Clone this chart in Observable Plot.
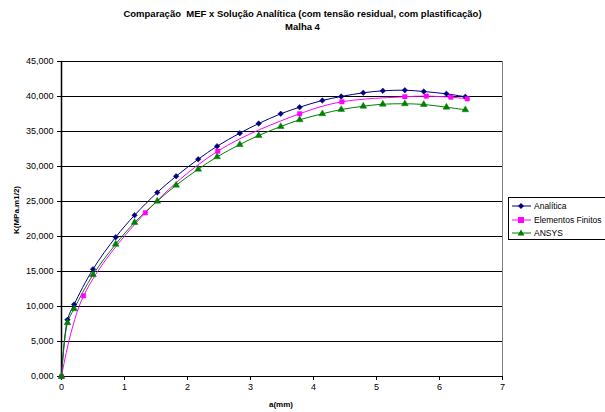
<!DOCTYPE html>
<html>
<head>
<meta charset="utf-8">
<script src="https://cdn.jsdelivr.net/npm/d3@7"></script>
<script src="https://cdn.jsdelivr.net/npm/@observablehq/plot@0.6"></script>
<style>
  body { margin: 0; background: white; }
  #wrap { position: relative; width: 605px; height: 412px; font-family: "Liberation Sans", Arial, sans-serif; overflow: hidden; }
  #wrap > svg { position: absolute; left: 0; top: 0; }
  .title { position: absolute; left: 0; width: 605px; text-align: center; font-weight: bold; font-size: 9.5px; white-space: pre; }
  .ylabel { position: absolute; left: 16px; top: 210px; transform: translate(-50%, -50%) rotate(-90deg); font-weight: bold; font-size: 8px; white-space: nowrap; }
  .xlabel { position: absolute; left: 281px; top: 404px; transform: translate(-50%, -50%); font-weight: bold; font-size: 8px; }
  .legend { position: absolute; left: 508px; top: 197px; width: 100px; height: 43px; border: 1px solid #000; background: white; box-sizing: border-box; font-size: 8.5px; }
  .legend .row { position: absolute; left: 2px; height: 12px; display: flex; align-items: center; white-space: nowrap; }
  .legend .row svg { position: static; display: block; margin-right: 3px; }
</style>
</head>
<body>
<div id="wrap"></div>
<script>
// Data (K in MPa.m1/2, a in mm)
const aAnalitica = [0, 0.095, 0.2, 0.5, 0.86, 1.16, 1.52, 1.82, 2.17, 2.47, 2.83, 3.13, 3.48, 3.78, 4.14, 4.44, 4.79, 5.10, 5.45, 5.75, 6.11, 6.41];
const kAnalitica = [0, 8.10, 10.29, 15.33, 19.90, 23.04, 26.29, 28.61, 31.04, 32.90, 34.76, 36.14, 37.53, 38.47, 39.43, 40.00, 40.53, 40.81, 40.90, 40.71, 40.38, 39.96];
const aMEF = [0, 0.35, 1.33, 2.48, 3.78, 4.45, 5.45, 5.79, 6.18, 6.44];
const kMEF = [0, 11.53, 23.38, 32.19, 37.53, 39.24, 39.96, 40.05, 39.90, 39.67];
const aANSYS = [0, 0.095, 0.2, 0.5, 0.86, 1.16, 1.52, 1.82, 2.17, 2.47, 2.83, 3.13, 3.48, 3.78, 4.14, 4.44, 4.79, 5.10, 5.45, 5.75, 6.11, 6.41];
const kANSYS = [0, 7.67, 9.67, 14.53, 18.90, 22.00, 25.04, 27.33, 29.61, 31.38, 33.14, 34.43, 35.71, 36.67, 37.53, 38.14, 38.61, 38.90, 38.96, 38.86, 38.47, 38.10];
const seriesNames = ["Analítica", "Elementos Finitos", "ANSYS"];
const seriesColors = ["#000080", "#FF00FF", "#008000"];
const seriesSymbols = ["diamond2", "square", "triangle"];
const xTicks = [0, 1, 2, 3, 4, 5, 6, 7];
const yTicks = [0, 5, 10, 15, 20, 25, 30, 35, 40, 45];
const titleLines = ["Comparação  MEF x Solução Analítica (com tensão residual, com plastificação)", "Malha 4"];

const toRows = (xs, ys) => xs.map((x, i) => ({x, y: ys[i]}));
const sets = [toRows(aAnalitica, kAnalitica), toRows(aMEF, kMEF), toRows(aANSYS, kANSYS)];

const marks = [
  Plot.ruleY(yTicks, {stroke: "#000", strokeWidth: 1}),
  Plot.ruleX([7], {stroke: "#808080", strokeWidth: 1}),
  Plot.ruleX([0], {stroke: "#000", strokeWidth: 1.5})
];
sets.forEach((d, i) => {
  marks.push(Plot.line(d, {x: "x", y: "y", stroke: seriesColors[i], strokeWidth: 1, curve: "catmull-rom"}));
});
sets.forEach((d, i) => {
  marks.push(Plot.dot(d, {x: "x", y: "y", symbol: () => seriesSymbols[i], fill: seriesColors[i], stroke: seriesColors[i], strokeWidth: 0.5, r: 2.5}));
});

const chart = Plot.plot({
  width: 605, height: 412,
  marginLeft: 61, marginRight: 103, marginTop: 61, marginBottom: 36,
  style: {fontFamily: "'Liberation Sans', Arial, sans-serif", fontSize: "9px", background: "white", color: "#000", overflow: "visible"},
  x: {domain: [0, 7], ticks: xTicks, tickFormat: d => String(d), tickSize: 4, tickPadding: 3, label: null},
  y: {domain: [0, 45], ticks: yTicks, tickFormat: d => d.toFixed(3).replace(".", ","), tickSize: 4, tickPadding: 4, label: null},
  symbol: {type: "identity"},
  marks
});

const wrap = document.getElementById("wrap");
wrap.appendChild(chart);

titleLines.forEach((t, i) => {
  const div = document.createElement("div");
  div.className = "title";
  div.style.top = (8 + i * 13) + "px";
  div.textContent = t;
  wrap.appendChild(div);
});
const yl = document.createElement("div"); yl.className = "ylabel"; yl.textContent = "K(MPa.m1/2)"; wrap.appendChild(yl);
const xl = document.createElement("div"); xl.className = "xlabel"; xl.textContent = "a(mm)"; wrap.appendChild(xl);

const leg = document.createElement("div"); leg.className = "legend";
const shapes = [
  c => `<path d="M10,3 L13,6 L10,9 L7,6 Z" fill="${c}"/>`,
  c => `<rect x="7" y="3" width="6" height="6" fill="${c}"/>`,
  c => `<path d="M10,2.5 L13.5,8.5 L6.5,8.5 Z" fill="${c}"/>`
];
seriesNames.forEach((n, i) => {
  const row = document.createElement("div");
  row.className = "row";
  row.style.top = (2 + i * 13.5) + "px";
  row.innerHTML = `<svg width="20" height="12"><line x1="1" x2="20" y1="6" y2="6" stroke="${seriesColors[i]}" stroke-width="1"/>${shapes[i](seriesColors[i])}</svg><span>${n}</span>`;
  leg.appendChild(row);
});
wrap.appendChild(leg);
</script>
</body>
</html>
